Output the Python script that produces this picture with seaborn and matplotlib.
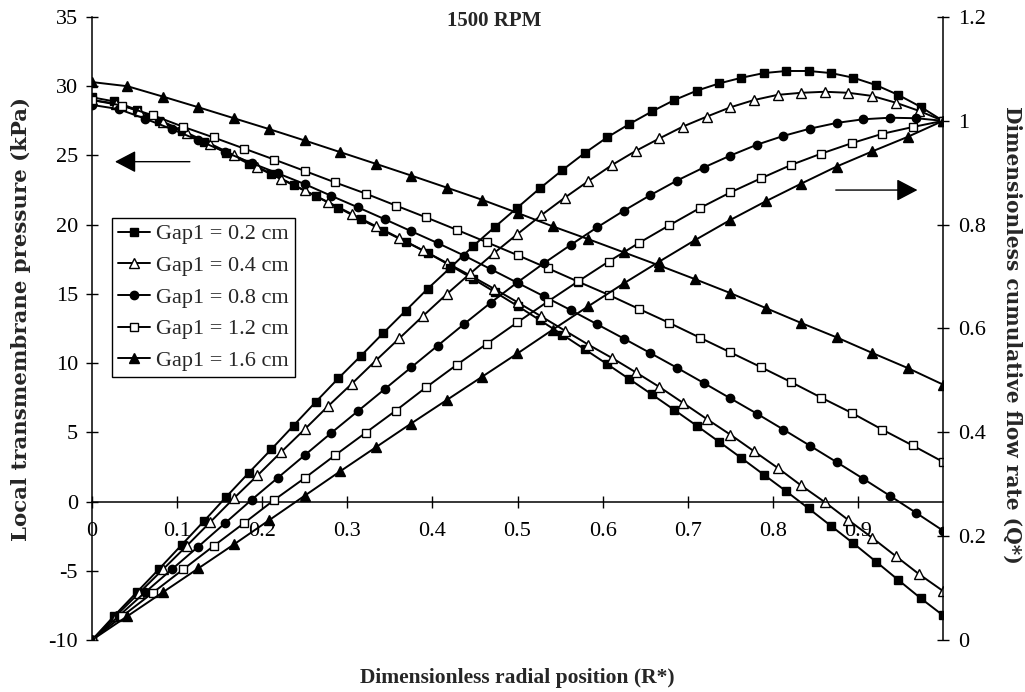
import numpy as np
import matplotlib
matplotlib.use("Agg")
import matplotlib.pyplot as plt
import seaborn as sns

# ---------------- data ----------------
gap_labels = ["Gap1 = 0.2 cm", "Gap1 = 0.4 cm", "Gap1 = 0.8 cm", "Gap1 = 1.2 cm", "Gap1 = 1.6 cm"]

# Local transmembrane pressure (kPa), evenly spaced in R* from 0 to 1
p_gap02 = [29.2, 28.9, 28.3, 27.5, 26.75, 26.0, 25.2, 24.4, 23.65, 22.85,
           22.05, 21.22, 20.38, 19.57, 18.77, 17.95, 17.05, 16.1, 15.12, 14.13,
           13.1, 12.06, 11.0, 9.93, 8.84, 7.74, 6.62, 5.48, 4.32, 3.14,
           1.94, 0.74, -0.5, -1.76, -3.02, -4.33, -5.66, -6.98, -8.22]
p_gap04 = [29.0, 28.75, 28.2, 27.45, 26.65, 25.85, 25.02, 24.18, 23.33, 22.47,
           21.62, 20.76, 19.9, 19.03, 18.15, 17.25, 16.33, 15.38, 14.4, 13.38,
           12.35, 11.33, 10.37, 9.34, 8.28, 7.13, 5.97, 4.84, 3.64, 2.44,
           1.16, -0.04, -1.34, -2.61, -3.94, -5.26, -6.46]
p_gap08 = [28.65, 28.35, 27.65, 26.9, 26.1, 25.25, 24.45, 23.7, 22.93, 22.08,
           21.25, 20.4, 19.53, 18.67, 17.76, 16.78, 15.8, 14.82, 13.83, 12.8,
           11.77, 10.72, 9.66, 8.57, 7.46, 6.35, 5.2, 4.03, 2.85, 1.65,
           0.42, -0.83, -2.1]
p_gap12 = [29.0, 28.6, 27.9, 27.07, 26.3, 25.5, 24.7, 23.88, 23.05, 22.25,
           21.38, 20.52, 19.63, 18.72, 17.8, 16.85, 15.88, 14.93, 13.91, 12.9,
           11.84, 10.78, 9.72, 8.63, 7.5, 6.4, 5.2, 4.05, 2.87]
p_gap16 = [30.3, 30.0, 29.25, 28.48, 27.69, 26.9, 26.08, 25.24, 24.4, 23.55,
           22.68, 21.8, 20.85, 19.87, 18.95, 18.0, 17.05, 16.07, 15.06, 13.98,
           12.9, 11.86, 10.74, 9.65, 8.45]

# Dimensionless cumulative flow rate Q*
q_gap02 = [0.0, 0.047, 0.092, 0.137, 0.183, 0.229, 0.276, 0.322, 0.367, 0.413,
           0.459, 0.504, 0.547, 0.591, 0.634, 0.677, 0.717, 0.758, 0.796, 0.833,
           0.870, 0.905, 0.938, 0.968, 0.994, 1.018, 1.040, 1.058, 1.072, 1.083,
           1.092, 1.096, 1.096, 1.092, 1.083, 1.069, 1.050, 1.027, 1.0]
q_gap04 = [0.0, 0.046, 0.091, 0.136, 0.181, 0.227, 0.273, 0.317, 0.362, 0.406,
           0.451, 0.494, 0.538, 0.581, 0.624, 0.666, 0.706, 0.745, 0.782, 0.818,
           0.852, 0.884, 0.915, 0.942, 0.966, 0.989, 1.008, 1.026, 1.040, 1.050,
           1.054, 1.056, 1.054, 1.048, 1.035, 1.019, 1.0]
q_gap08 = [0.0, 0.046, 0.092, 0.136, 0.180, 0.225, 0.270, 0.313, 0.356, 0.399,
           0.441, 0.483, 0.525, 0.567, 0.609, 0.650, 0.689, 0.726, 0.761, 0.795,
           0.827, 0.857, 0.885, 0.910, 0.933, 0.954, 0.971, 0.985, 0.996, 1.003,
           1.006, 1.005, 1.0]
q_gap12 = [0.0, 0.046, 0.091, 0.136, 0.181, 0.225, 0.270, 0.312, 0.356, 0.399,
           0.442, 0.487, 0.530, 0.571, 0.612, 0.652, 0.691, 0.729, 0.765, 0.799,
           0.832, 0.862, 0.889, 0.915, 0.937, 0.957, 0.975, 0.988, 1.0]
q_gap16 = [0.0, 0.046, 0.092, 0.138, 0.184, 0.231, 0.278, 0.325, 0.371, 0.417,
           0.462, 0.507, 0.552, 0.598, 0.643, 0.687, 0.729, 0.770, 0.809, 0.845,
           0.879, 0.912, 0.941, 0.969, 1.0]

pressure_series = [p_gap02, p_gap04, p_gap08, p_gap12, p_gap16]
flow_series = [q_gap02, q_gap04, q_gap08, q_gap12, q_gap16]

x_ticks = [0, 0.1, 0.2, 0.3, 0.4, 0.5, 0.6, 0.7, 0.8, 0.9]
x_ticklabels = ["0", "0.1", "0.2", "0.3", "0.4", "0.5", "0.6", "0.7", "0.8", "0.9"]
left_ticks = [-10, -5, 0, 5, 10, 15, 20, 25, 30, 35]
left_ticklabels = ["-10", "-5", "0", "5", "10", "15", "20", "25", "30", "35"]
right_ticks = [0, 0.2, 0.4, 0.6, 0.8, 1.0, 1.2]
right_ticklabels = ["0", "0.2", "0.4", "0.6", "0.8", "1", "1.2"]

# ---------------- style ----------------
sns.set_theme(style="white")
plt.rcParams["font.family"] = ["Liberation Serif", "DejaVu Serif"]
plt.rcParams["axes.unicode_minus"] = False

styles = [
    dict(marker="s", markerfacecolor="black", markersize=6.3),
    dict(marker="^", markerfacecolor="white", markersize=6.8),
    dict(marker="o", markerfacecolor="black", markersize=6.0),
    dict(marker="s", markerfacecolor="white", markersize=5.8),
    dict(marker="^", markerfacecolor="black", markersize=7.0),
]

W, H = 1025, 692
fig = plt.figure(figsize=(W / 100, H / 100), dpi=100)
ax_l, ax_r, ax_t, ax_b = 92, 943, 17, 640
ax = fig.add_axes([ax_l / W, 1 - ax_b / H, (ax_r - ax_l) / W, (ax_b - ax_t) / H])
ax2 = ax.twinx()

for vals, lab, st in zip(pressure_series, gap_labels, styles):
    xs = np.linspace(0, 1, len(vals))
    sns.lineplot(x=xs, y=vals, ax=ax, color="black", linewidth=1.4,
                 markeredgecolor="black", markeredgewidth=1.0, label=lab,
                 legend=False, **st)
for vals, st in zip(flow_series, styles):
    xs = np.linspace(0, 1, len(vals))
    sns.lineplot(x=xs, y=vals, ax=ax2, color="black", linewidth=1.4,
                 markeredgecolor="black", markeredgewidth=1.0,
                 legend=False, **st)

ax.set_xlim(0, 1)
ax.set_ylim(-10, 35)
ax2.set_ylim(0, 1.2)

# spines
for s in ["top", "right"]:
    ax.spines[s].set_visible(False)
for s in ["top", "left", "bottom"]:
    ax2.spines[s].set_visible(False)
ax.spines["bottom"].set_position(("data", 0))
for sp in [ax.spines["left"], ax.spines["bottom"], ax2.spines["right"]]:
    sp.set_color("black")
    sp.set_linewidth(1.1)

ax.set_xticks(x_ticks)
ax.set_xticklabels(x_ticklabels)
ax.set_yticks(left_ticks)
ax.set_yticklabels(left_ticklabels)
ax2.set_yticks(right_ticks)
ax2.set_yticklabels(right_ticklabels)

ax.tick_params(axis="x", direction="inout", length=8, width=1, colors="black",
               labelsize=16, pad=11, bottom=True)
ax.tick_params(axis="y", direction="inout", length=8, width=1, colors="black",
               labelsize=16, pad=6, left=True)
ax2.tick_params(axis="y", direction="inout", length=8, width=1, colors="black",
                labelsize=16, pad=7, right=True)

ax.grid(False)
ax2.grid(False)

# labels
ax.set_xlabel("Dimensionless radial position (R*)", fontsize=15.5, fontweight="bold")
ax.xaxis.set_label_coords(0.5, -0.045)
ax.set_ylabel("Local transmembrane pressure (kPa)",
              fontdict=dict(family=["DejaVu Serif", "Liberation Serif"], size=15.3,
                            weight="bold"))
ax.yaxis.set_label_coords(-0.072, 0.515)
ax2.set_ylabel("Dimensionless cumulative flow rate (Q*)",
               fontdict=dict(family=["DejaVu Serif", "Liberation Serif"], size=14.5,
                             weight="bold"),
               rotation=270, va="bottom")
ax2.yaxis.set_label_coords(1.069, 0.49)

fig.text(494 / W, 1 - 20.5 / H, "1500 RPM", ha="center", va="center",
         fontsize=15, fontweight="bold")

# arrows
arrow_kw = dict(arrowstyle="-|>,head_length=0.65,head_width=0.34", color="black",
                lw=1.0, mutation_scale=20, shrinkA=0, shrinkB=0)
ax.annotate("", xy=(0.027, 24.55), xytext=(0.115, 24.55), arrowprops=arrow_kw)
ax.annotate("", xy=(0.970, 22.5), xytext=(0.874, 22.5), arrowprops=arrow_kw)

# legend
leg = ax.legend(loc="upper left", bbox_to_anchor=(0.0235, 0.677), frameon=True,
                fancybox=False, edgecolor="black", framealpha=1, fontsize=16,
                handlelength=1.45, handletextpad=0.3, labelspacing=0.5,
                borderpad=0.25, borderaxespad=0)
leg.get_frame().set_linewidth(1.0)

fig.savefig("out.png", dpi=100, facecolor="white")
